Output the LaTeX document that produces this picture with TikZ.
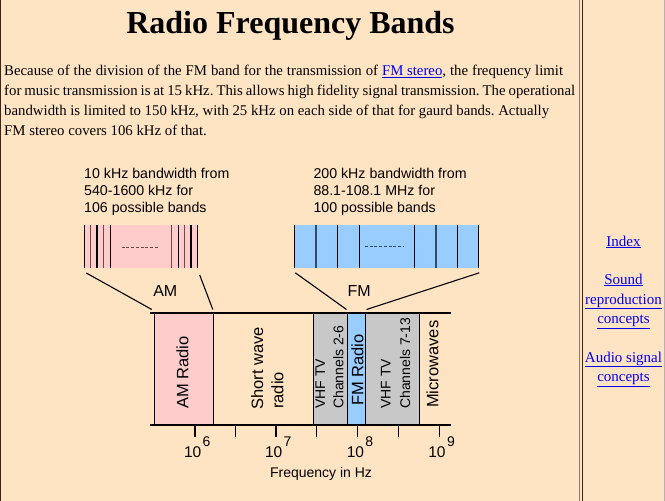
\documentclass[tikz,border=0pt]{standalone}
\usepackage{fontspec}
\setmainfont{Liberation Serif}
\newfontfamily\diagfont{Liberation Sans}
\usetikzlibrary{calc}
\definecolor{bg}{HTML}{FFE4C4}
\definecolor{ampink}{HTML}{FFCCCC}
\definecolor{fmblue}{HTML}{99CCFF}
\definecolor{vhfgray}{HTML}{C8C8C8}
\definecolor{linkblue}{HTML}{0000EE}
\definecolor{ambrown}{HTML}{6E4848}
\definecolor{fmdark}{HTML}{2E4A66}
\definecolor{framedark}{HTML}{3A2418}
\definecolor{framegray}{HTML}{8C7C70}
\newcommand\lnk[1]{\textcolor{linkblue}{\underline{#1}}}
\frenchspacing
\tikzset{
  pagetext/.style={font=\fontsize{14.8}{18}\selectfont, inner sep=0pt, anchor=base west},
  linktext/.style={font=\fontsize{15}{18}\selectfont, inner sep=0pt, anchor=base, text=linkblue},
  dtext/.style={font=\diagfont\fontsize{14.2}{16}\selectfont, inner sep=0pt, anchor=base west},
  bandlbl/.style={font=\diagfont\fontsize{16.5}{18}\selectfont, inner sep=0pt, anchor=base west, rotate=90},
  vhflbl/.style={font=\diagfont\fontsize{14}{16}\selectfont, inner sep=0pt, anchor=base west, rotate=90},
  bandbox/.style={draw=black, line width=0.8pt, inner sep=0pt, outer sep=0pt, anchor=north west, minimum height=112.2pt},
  chanbox/.style={inner sep=0pt, outer sep=0pt, anchor=north west, minimum height=43pt},
  conn/.style={line width=1.1pt, black},
  tick/.style={line width=1.3pt, black},
  ticknum/.style={font=\diagfont\fontsize{15.5}{17}\selectfont, inner sep=0pt, anchor=base east},
  tickexp/.style={font=\diagfont\fontsize{14}{15}\selectfont, inner sep=0pt, anchor=base west},
}
\begin{document}
\begin{tikzpicture}[x=1pt,y=-1pt]
\fill[bg] (0,0) rectangle (665,501);
\useasboundingbox (0,0) rectangle (665,501);
% frame
\draw[framedark, line width=1.3pt] (0.7,0) -- (0.7,501);
\draw[framegray, line width=1pt] (579.5,0) -- (579.5,501);
\draw[framedark, line width=1.5pt] (582.5,0) -- (582.5,501);
\draw[framegray!60, line width=1pt] (664.5,0) -- (664.5,501);
% title
\node[font=\fontsize{32}{38}\selectfont\bfseries, inner sep=0pt, anchor=base] (title) at (290.5,33) {Radio Frequency Bands};
% paragraph
\node[pagetext] (p1) at (4,75.5) {\makebox[559pt][s]{Because of the division of the FM band for the transmission of \lnk{FM stereo}, the frequency limit}};
\node[pagetext] (p2) at (4,95.3) {\makebox[571pt][s]{for music transmission is at 15 kHz. This allows high fidelity signal transmission. The operational}};
\node[pagetext] (p3) at (4,115) {\makebox[545pt][s]{bandwidth is limited to 150 kHz, with 25 kHz on each side of that for gaurd bands. Actually}};
\node[pagetext] (p4) at (4,135) {FM stereo covers 106 kHz of that.};
% sidebar
\node[linktext] (l1) at (623.5,246) {\underline{Index}};
\node[linktext] (l2) at (623.5,284) {\underline{Sound}};
\node[linktext] (l3) at (623.5,304) {\underline{reproduction}};
\node[linktext] (l4) at (623.5,323.5) {\underline{concepts}};
\node[linktext] (l5) at (623.5,362) {\underline{Audio signal}};
\node[linktext] (l6) at (623.5,381.5) {\underline{concepts}};
% top descriptions
\node[dtext] (am1) at (84,178) {10 kHz bandwidth from};
\node[dtext] (am2) at (84,195.3) {540-1600 kHz for};
\node[dtext] (am3) at (84,212.7) {106 possible bands};
\node[dtext] (fm1) at (313.3,178) {200 kHz bandwidth from};
\node[dtext] (fm2) at (313.3,195.3) {88.1-108.1 MHz for};
\node[dtext] (fm3) at (313.3,212.7) {100 possible bands};
% AM channel box
\node[chanbox, fill=ampink, minimum width=113.4pt] (ambox) at (84.3,225) {};
\foreach \x/\c in {84.8/black,90.7/ambrown,97/black,103.3/ambrown,110.3/black,171.7/ambrown,178.3/black,184.7/ambrown,191/black,197.2/black}
  \draw[\c, line width=1.1pt] (\x,225) -- (\x,268);
\draw[ambrown, line width=0.8pt, dash pattern=on 3pt off 1.7pt] (121.7,247) -- (159,247);
% FM channel box
\node[chanbox, fill=fmblue, minimum width=185pt] (fmbox) at (294.3,225.3) {};
\foreach \x/\c in {294.8/black,316/fmdark,337.7/black,359.3/black,414.3/black,436/fmdark,457.7/black,478.8/black}
  \draw[\c, line width=1.1pt] (\x,225.3) -- (\x,268.3);
\draw[fmdark, line width=0.8pt, dash pattern=on 3pt off 1.7pt] (365,246.7) -- (403.3,246.7);
% AM / FM labels
\node[font=\diagfont\fontsize{16}{18}\selectfont, inner sep=0pt, anchor=base] (amname) at (165.3,296) {AM};
\node[font=\diagfont\fontsize{16}{18}\selectfont, inner sep=0pt, anchor=base] (fmname) at (359.2,296) {FM};
% spectrum band boxes
\node[bandbox, fill=ampink, minimum width=59pt] (amradio) at (154.3,312.5) {};
\node[bandbox, minimum width=100.2pt] (shortwave) at (213.3,312.5) {};
\node[bandbox, fill=vhfgray, minimum width=34pt] (vhfa) at (313.5,312.5) {};
\node[bandbox, fill=fmblue, minimum width=18pt] (fmradio) at (347.5,312.5) {};
\node[bandbox, fill=vhfgray, minimum width=53.8pt] (vhfb) at (365.5,312.5) {};
\draw[line width=2pt] (150,312.5) -- (451,312.5);
\draw[line width=2pt] (150,424.7) -- (451,424.7);
% connectors
\draw[conn] ([shift={(2,5)}]ambox.south west) -- ([shift={(-2.5,-3)}]amradio.north west);
\draw[conn] ([shift={(2,7)}]ambox.south east) -- ([shift={(-0.5,-3)}]amradio.north east);
\draw[conn] ([shift={(1,4.5)}]fmbox.south west) -- ([shift={(-1,-3)}]fmradio.north west);
\draw[conn] ([shift={(0,4.5)}]fmbox.south east) -- ([shift={(1,-3)}]fmradio.north east);
% band labels
\node[bandlbl] (lamr) at (188.3,409) {AM Radio};
\node[bandlbl] (lsw1) at (263,410) {Short wave};
\node[bandlbl] (lsw2) at (283.3,409) {radio};
\node[vhflbl] (lva1) at (325,409) {VHF TV};
\node[vhflbl] (lva2) at (343.3,409) {Channels 2-6};
\node[bandlbl] (lfm) at (363.3,406) {FM Radio};
\node[vhflbl] (lvb1) at (390.7,409) {VHF TV};
\node[vhflbl] (lvb2) at (410,409) {Channels 7-13};
\node[bandlbl] (lmw) at (438.3,408) {Microwaves};
% ticks
\foreach \x in {195,235.7,276,316.7,357.7,398.3,439.3}
  \draw[tick] (\x,425.5) -- (\x,436.5);
\foreach \x/\e [count=\i] in {195/6,276/7,357.7/8,439.3/9} {
  \node[ticknum] (tn\i) at (\x+6.5,457) {10};
  \node[tickexp] (te\i) at (\x+7.5,446) {\e};
}
\node[font=\diagfont\fontsize{14}{16}\selectfont, inner sep=0pt, anchor=base] (axis) at (321,477.3) {Frequency in Hz};
\end{tikzpicture}
\end{document}
